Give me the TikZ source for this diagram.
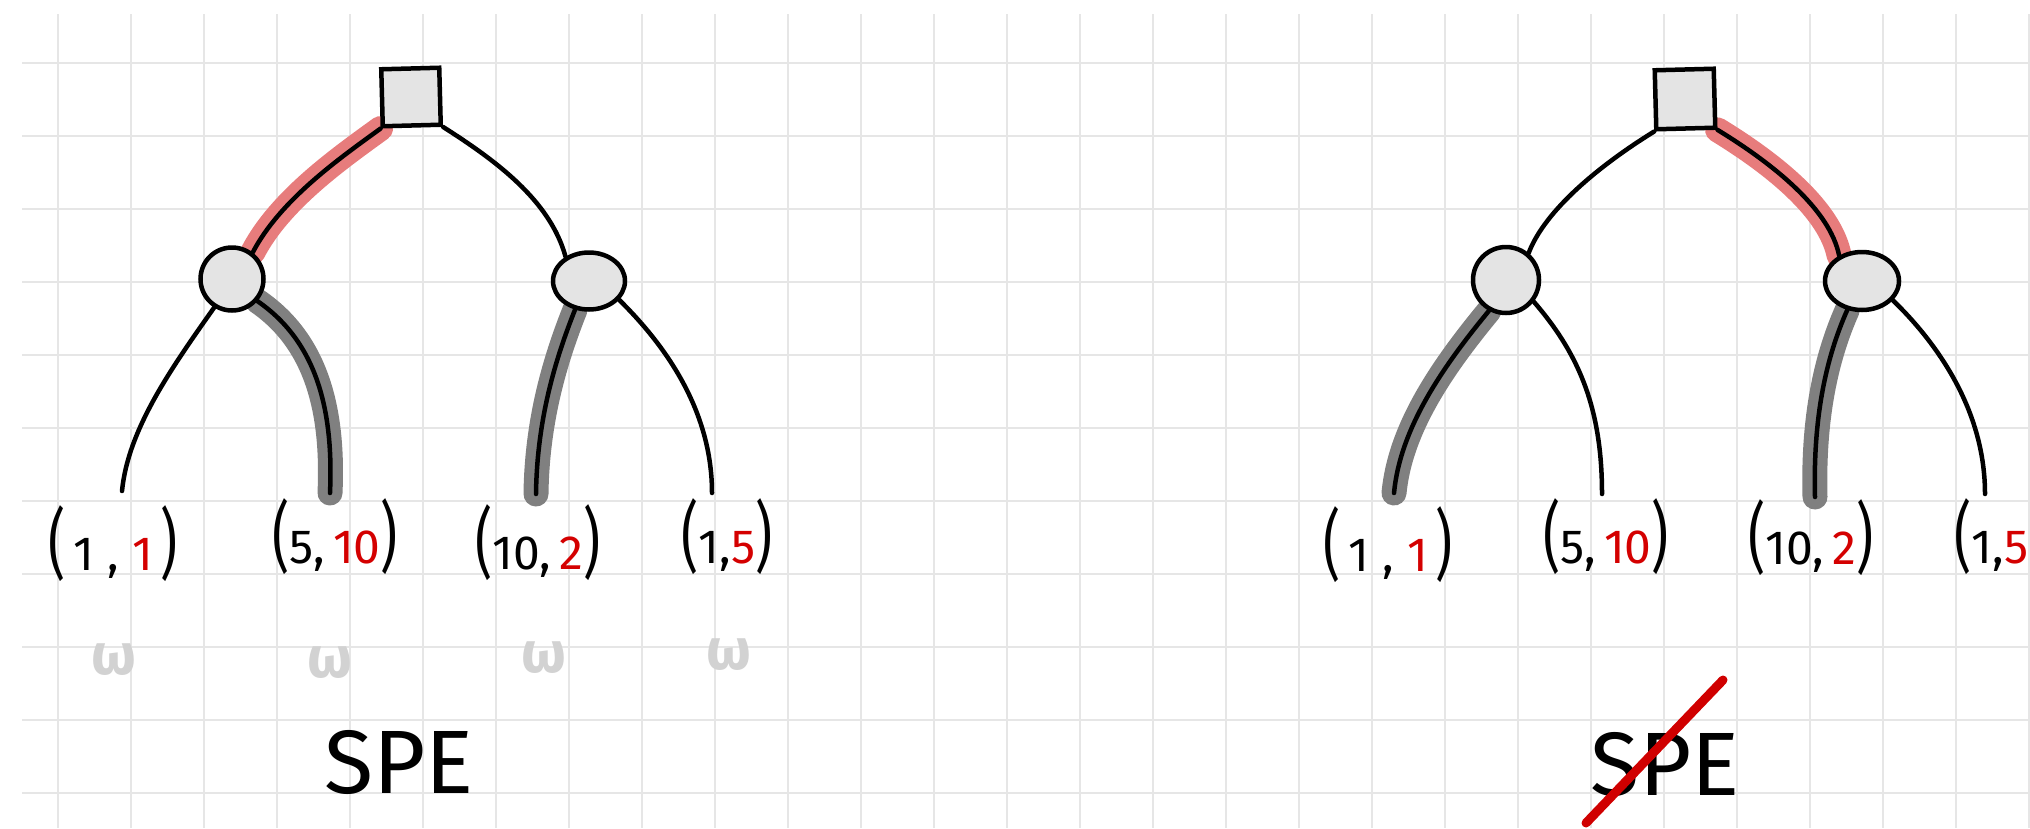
\documentclass[tikz,border=0pt]{standalone}
\usepackage{fontspec}
\setmainfont{Fira Sans}
\usepackage{graphicx}
\usetikzlibrary{shapes.geometric}
\definecolor{gridc}{HTML}{E6E6E6}
\definecolor{nodefill}{HTML}{E4E4E4}
\definecolor{hlred}{HTML}{E77C7C}
\definecolor{hlgray}{HTML}{808080}
\definecolor{payred}{HTML}{D40000}
\definecolor{omegac}{HTML}{D2D2D2}
\definecolor{strikec}{HTML}{D00000}
\pgfdeclarelayer{gridlayer}
\pgfdeclarelayer{edgelayer}
\pgfsetlayers{gridlayer,edgelayer,main}
\newcommand\lpar{\raisebox{0pt}{\scalebox{1.1}[1.6]{(}}}
\newcommand\rpar{\raisebox{0pt}{\scalebox{1.1}[1.6]{)}}}
\newcommand\pr[1]{\textcolor{payred}{#1}}
\begin{document}
\begin{tikzpicture}[x=1pt,y=-1pt,
  gridline/.style={draw=gridc, line width=2.8pt},
  decnode/.style={rectangle, draw=black, line width=4.5pt, fill=nodefill, inner sep=0pt},
  chancenode/.style={ellipse, draw=black, line width=4.5pt, fill=nodefill, inner sep=0pt},
  edge/.style={draw=black, line width=4.5pt, line cap=round},
  redhl/.style={preaction={draw=hlred, line width=25pt, line cap=round}},
  grayhl/.style={preaction={draw=hlgray, line width=25pt, line cap=round}},
  payoff/.style={font=\fontsize{48}{52}\selectfont, inner sep=0pt},
  omeganode/.style={font=\bfseries\fontsize{58}{62}\selectfont, text=omegac, inner sep=0pt},
  spelabel/.style={font=\fontsize{90}{96}\selectfont, inner sep=0pt},
  strikeline/.style={draw=strikec, line width=9pt, line cap=round}
]
\useasboundingbox (0,0) rectangle (2030,828);
\begin{pgfonlayer}{gridlayer}
\fill[white] (0,0) rectangle (2030,828);
\foreach \i in {0,...,27} \draw[gridline] ({58+73*\i},14) -- ({58+73*\i},828);
\foreach \j in {0,...,10} \draw[gridline] (22,{63+73*\j}) -- (2030,{63+73*\j});
\end{pgfonlayer}

% left tree
\node[decnode, minimum width=58pt, minimum height=57pt, rotate=1.5] (sqL) at (411,97) {};
\node[chancenode, minimum width=63pt, minimum height=63pt] (cL1) at (232,279) {};
\node[chancenode, minimum width=72pt, minimum height=57pt] (cL2) at (589,281) {};
\coordinate (lfL1) at (122,491);
\coordinate (lfL2) at (330,493);
\coordinate (lfL3) at (536,494);
\coordinate (lfL4) at (712,493);

% right tree
\node[decnode, minimum width=59pt, minimum height=59pt, rotate=1.5] (sqR) at (1685,99) {};
\node[chancenode, minimum width=66pt, minimum height=66pt] (cR1) at (1506,280) {};
\node[chancenode, minimum width=74pt, minimum height=58pt] (cR2) at (1862,281) {};
\coordinate (lfR1) at (1394,493);
\coordinate (lfR2) at (1602,494);
\coordinate (lfR3) at (1815,497);
\coordinate (lfR4) at (1985,494);

\begin{pgfonlayer}{edgelayer}
\draw[edge, redhl] (sqL.south west) .. controls (340,158) and (280,200) .. (cL1.52);
\draw[edge] (sqL.south east) .. controls (495,160) and (550,200) .. (cL2.134);
\draw[edge] (cL1.238) .. controls (170,370) and (128,430) .. (lfL1);
\draw[edge, grayhl] (cL1.319) .. controls (314,340) and (334,405) .. (lfL2);
\draw[edge, grayhl] (cL2.244) .. controls (555,360) and (537,420) .. (lfL3);
\draw[edge] (cL2.328) .. controls (665,345) and (712,410) .. (lfL4);

\draw[edge] (sqR.south west) .. controls (1600,165) and (1545,210) .. (cR1.50);
\draw[edge, redhl] (sqR.south east) .. controls (1775,165) and (1830,210) .. (cR2.132);
\draw[edge, grayhl] (cR1.241) .. controls (1440,370) and (1400,430) .. (lfR1);
\draw[edge] (cR1.322) .. controls (1580,355) and (1602,410) .. (lfR2);
\draw[edge, grayhl] (cR2.243) .. controls (1825,360) and (1813,420) .. (lfR3);
\draw[edge] (cR2.328) .. controls (1937,343) and (1985,410) .. (lfR4);
\end{pgfonlayer}

% payoffs left
\node[payoff] (pL1) at (113,544) {\lpar\,1\;,\;\pr{1}\,\rpar};
\node[payoff] (pL2) at (335,537) {\lpar5,\,\pr{10}\rpar};
\node[payoff] (pL3) at (538,543) {\lpar10,\,\pr{2}\rpar};
\node[payoff] (pL4) at (727,537) {\lpar1,\pr{5}\rpar};
% payoffs right
\node[payoff] (pR1) at (1388,545) {\lpar\,1\;,\;\pr{1}\,\rpar};
\node[payoff] (pR2) at (1606,537) {\lpar5,\,\pr{10}\rpar};
\node[payoff] (pR3) at (1811,538) {\lpar10,\,\pr{2}\rpar};
\node[payoff] (pR4) at (2000,537) {\lpar1,\pr{5}\rpar};

% omegas
\node[omeganode] (wL1) at (114,660) {ω};
\node[omeganode] (wL2) at (330,663) {ω};
\node[omeganode] (wL3) at (544,658) {ω};
\node[omeganode] (wL4) at (729,655) {ω};

% SPE labels
\node[spelabel] (speL) at (399,762) {SPE};
\node[spelabel] (speR) at (1665,764) {SPE};
\coordinate (stA) at (1586,823);
\coordinate (stB) at (1723,680);
\draw[strikeline] (stA) -- (stB);
\end{tikzpicture}
\end{document}
